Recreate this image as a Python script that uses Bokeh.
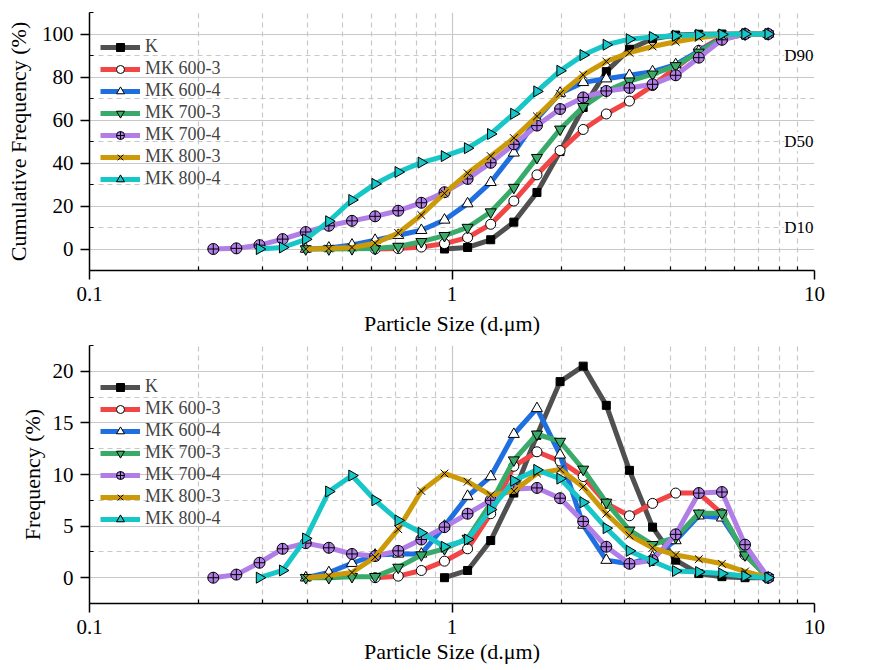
import numpy as np
from bokeh.plotting import figure
from bokeh.layouts import column
from bokeh.models import (FixedTicker, NumeralTickFormatter, Legend, LegendItem,
                          Label, Range1d)
from bokeh.embed import file_html
from bokeh.resources import INLINE

# ---------------- data ----------------
sizes = [0.2195, 0.2542, 0.2944, 0.3410, 0.3950, 0.4574, 0.5298, 0.6136, 0.7107,
         0.8231, 0.9533, 1.1041, 1.2788, 1.4811, 1.7154, 1.9868, 2.3011, 2.6651,
         3.0867, 3.5750, 4.1406, 4.7956, 5.5543, 6.4330, 7.4507]

series_names = ["K", "MK 600-3", "MK 600-4", "MK 700-3", "MK 700-4", "MK 800-3", "MK 800-4"]
start_index = [10, 7, 4, 4, 0, 4, 2]

cum_K = [0, 0.7, 4.3, 12.5, 26.3, 45.3, 65.8, 82.5, 92.9, 97.8, 99.5, 99.9, 100, 100, 100]
cum_MK600_3 = [0, 0.2, 0.9, 2.5, 5.3, 11.5, 22.3, 34.5, 45.8, 55.6, 62.8, 68.8, 76.0, 84.2,
               92.4, 98.6, 100, 100]
cum_MK600_4 = [0, 0.5, 1.9, 4.1, 6.4, 8.7, 13.5, 21.1, 31.0, 44.7, 60.5, 72.5, 77.5, 79.2,
               80.8, 82.5, 85.8, 92.0, 98.0, 100, 100]
cum_MK700_3 = [0, 0, 0.1, 0.2, 1.2, 3.4, 6.2, 10.0, 17.2, 28.6, 42.5, 55.7, 66.2, 73.5,
               78.1, 81.3, 85.2, 91.5, 97.7, 99.9, 100]
cum_MK700_4 = [0, 0.3, 1.8, 4.6, 7.9, 10.8, 13.1, 15.2, 17.8, 21.5, 26.4, 32.6, 40.1, 48.7,
               57.4, 65.1, 70.5, 73.5, 74.9, 76.6, 80.8, 89.0, 97.3, 100, 100]
cum_MK800_3 = [0, 0.2, 0.7, 2.7, 7.4, 15.8, 25.9, 35.2, 43.2, 51.6, 61.7, 72.2, 81.0, 87.2,
               91.3, 94.2, 96.4, 98.2, 99.5, 100, 100]
cum_MK800_4 = [0, 0.7, 4.5, 12.9, 22.8, 30.3, 35.8, 40.2, 43.2, 46.9, 53.5, 62.9, 73.3, 82.9,
               90.2, 95.0, 97.6, 98.6, 99.2, 99.6, 99.8, 100, 100]

freq_K = [0, 0.7, 3.6, 8.2, 13.8, 19.0, 20.5, 16.7, 10.4, 4.9, 1.7, 0.4, 0.1, 0, 0]
freq_MK600_3 = [0, 0.15, 0.7, 1.6, 2.8, 6.2, 10.8, 12.2, 11.3, 9.8, 7.2, 6.0, 7.2, 8.2, 8.2,
                6.2, 2.2, 0]
freq_MK600_4 = [0, 0.5, 1.4, 2.2, 2.3, 2.3, 5.0, 7.9, 9.8, 13.9, 16.4, 11.9, 5.1, 1.7, 1.35,
                2.0, 3.6, 6.0, 5.8, 2.4, 0]
freq_MK700_3 = [0, 0, 0.1, 0.1, 1.0, 2.2, 2.8, 3.8, 7.2, 11.4, 13.9, 13.2, 10.5, 7.3, 4.6,
                3.2, 3.9, 6.25, 6.25, 2.2, 0]
freq_MK700_4 = [0, 0.3, 1.45, 2.8, 3.35, 2.9, 2.3, 2.1, 2.6, 3.7, 4.9, 6.2, 7.5, 8.6, 8.7,
                7.7, 5.45, 3.0, 1.35, 1.7, 4.2, 8.2, 8.3, 3.2, 0]
freq_MK800_3 = [0, 0.2, 0.5, 2.0, 4.7, 8.4, 10.1, 9.3, 8.0, 8.4, 10.1, 10.5, 8.8, 6.2, 4.1,
                2.9, 2.2, 1.8, 1.35, 0.6, 0]
freq_MK800_4 = [0, 0.7, 3.8, 8.35, 9.9, 7.5, 5.55, 4.35, 3.0, 3.7, 6.6, 9.4, 10.45, 9.6, 7.3,
                4.8, 2.6, 1.6, 0.65, 0.55, 0.4, 0.15, 0]

cum_data = [cum_K, cum_MK600_3, cum_MK600_4, cum_MK700_3, cum_MK700_4, cum_MK800_3, cum_MK800_4]
freq_data = [freq_K, freq_MK600_3, freq_MK600_4, freq_MK700_3, freq_MK700_4, freq_MK800_3, freq_MK800_4]

x_major = [0.1, 1, 10]
x_minor = [0.2, 0.3, 0.4, 0.5, 0.6, 0.7, 0.8, 0.9, 2, 3, 4, 5, 6, 7, 8, 9]
top_y_major = [0, 20, 40, 60, 80, 100]
top_y_minor = [-10, 10, 30, 50, 70, 90, 110]
bot_y_major = [0, 5, 10, 15, 20]
bot_y_minor = [-2.5, 2.5, 7.5, 12.5, 17.5, 22.5]
d_labels = ["D90", "D50", "D10"]
d_values = [90, 50, 10]
x_title = "Particle Size (d.\u03bcm)"

# ---------------- styles ----------------
colors = ["#505050", "#f24646", "#1f6fe0", "#3aaa6a", "#b07ee6", "#cc9a08", "#17c6c6"]
markers = ["square", "circle", "triangle", "inverted_triangle", "circle_cross", "x", "triangle"]
angles = [0, 0, 0, 0, 0, 0, -np.pi / 2]
fills = ["black", "white", "white", None, None, None, None]
msizes = [8, 10, 11, 11, 11, 11, 11]
FONT = "Liberation Serif"


def make_fig(height, border_top, border_bottom, yr, ymaj, ymin, ylabel,
             xlab_standoff, ylab_standoff):
    p = figure(width=887, height=height, x_axis_type="log",
               x_range=Range1d(0.1, 10), y_range=Range1d(*yr),
               output_backend="svg", toolbar_location=None,
               min_border_left=89, min_border_right=73,
               min_border_top=border_top, min_border_bottom=border_bottom)
    p.outline_line_color = None
    p.background_fill_color = "white"
    p.border_fill_color = "white"
    p.xaxis.ticker = FixedTicker(ticks=x_major, minor_ticks=x_minor)
    p.xaxis.formatter = NumeralTickFormatter(format="0.[0]")
    p.yaxis.ticker = FixedTicker(ticks=ymaj, minor_ticks=ymin)
    for ax in (p.xaxis, p.yaxis):
        ax.axis_line_width = 1.5
        ax.axis_line_color = "black"
        ax.major_tick_line_width = 1.5
        ax.minor_tick_line_width = 1.2
        ax.major_tick_out = 9
        ax.major_tick_in = 0
        ax.minor_tick_out = 0
        ax.minor_tick_in = 4
        ax.major_label_text_font = FONT
        ax.major_label_text_font_size = "21px"
        ax.major_label_text_color = "black"
        ax.axis_label_text_font = FONT
        ax.axis_label_text_font_size = "22px"
        ax.axis_label_text_font_style = "normal"
        ax.axis_label_text_color = "black"
    p.xaxis.major_label_standoff = 7
    p.yaxis.major_label_standoff = 7
    p.xaxis.axis_label = x_title
    p.xaxis.axis_label_standoff = xlab_standoff
    p.yaxis.axis_label = ylabel
    p.yaxis.axis_label_standoff = ylab_standoff
    for g in (p.xgrid, p.ygrid):
        g.grid_line_color = "#c8c8c8"
        g.grid_line_width = 1.2
        g.minor_grid_line_color = "#c8c8c8"
        g.minor_grid_line_width = 1.2
        g.minor_grid_line_dash = "5 4"
    return p


def add_series(p, data_lists, legend_loc):
    items = []
    for name, st, vals, c, m, a, f, s in zip(series_names, start_index, data_lists,
                                             colors, markers, angles, fills, msizes):
        xs = sizes[st:st + len(vals)]
        lr = p.line(xs, vals, line_color=c, line_width=5)
        fill = c if f is None else f
        sr = p.scatter(xs, vals, marker=m, angle=a, size=s, fill_color=fill,
                       line_color="black", line_width=1)
        items.append(LegendItem(label=name, renderers=[lr, sr]))
    leg = Legend(items=items, location=legend_loc, padding=0, margin=0,
                 spacing=1, glyph_width=40, glyph_height=20, label_height=20,
                 label_standoff=5, label_text_font=FONT, label_text_font_size="18px",
                 background_fill_alpha=0, border_line_color=None)
    p.add_layout(leg, "center")


# ---------------- top chart ----------------
p1 = make_fig(342, 12, 72, (-10, 110), top_y_major, top_y_minor,
              "Cumulative Frequency (%)", 7, 8)
add_series(p1, cum_data, (11, 81))
for t, v in zip(d_labels, d_values):
    p1.add_layout(Label(x=10, y=v, text=t, text_align="right", text_baseline="middle",
                        text_font=FONT, text_font_size="17px", text_color="black",
                        background_fill_color="white", x_offset=-1))
p1.add_layout(Label(x=14.27, y=49.6, text="(a)", text_align="center", text_baseline="middle",
                    text_font=FONT, text_font_size="22px", text_color="black"))

# ---------------- bottom chart ----------------
p2 = make_fig(328, 3, 67, (-2.5, 22.5), bot_y_major, bot_y_minor,
              "Frequency (%)", 2, 5)
add_series(p2, freq_data, (11, 74))
p2.add_layout(Label(x=14.27, y=9.6, text="(b)", text_align="center", text_baseline="middle",
                    text_font=FONT, text_font_size="22px", text_color="black"))

layout = column(p1, p2, spacing=0)
open("out.html", "w").write(file_html(layout, INLINE))
